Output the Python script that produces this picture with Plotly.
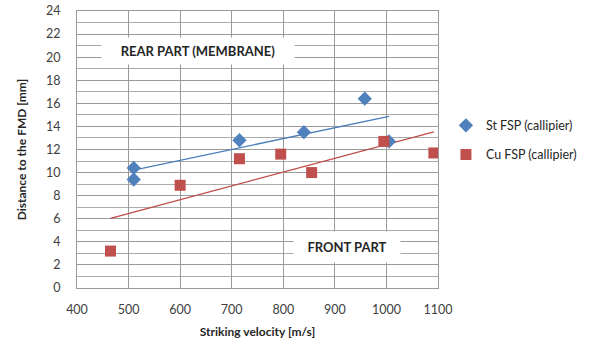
import numpy as np
import plotly.graph_objects as go

# Steel FSP measurements (callipier)
st_velocity = [510, 510, 715, 840, 958, 1005]
st_distance = [10.4, 9.4, 12.8, 13.5, 16.4, 12.7]

# Copper FSP measurements (callipier)
cu_velocity = [465, 600, 715, 795, 855, 995, 1092]
cu_distance = [3.2, 8.9, 11.2, 11.6, 10.0, 12.7, 11.7]

x_ticks = [400, 500, 600, 700, 800, 900, 1000, 1100]
y_ticks = list(range(0, 25, 2))

FONT = "Lato"
BLUE = "#4f81bd"
RED = "#c0504d"


def linear_trend(x, y):
    """Least-squares line evaluated at the min and max of x."""
    k, b = np.polyfit(x, y, 1)
    xs = np.array([min(x), max(x)])
    return xs, k * xs + b


fig = go.Figure()

st_tx, st_ty = linear_trend(st_velocity, st_distance)
cu_tx, cu_ty = linear_trend(cu_velocity, cu_distance)

fig.add_trace(go.Scatter(x=st_tx, y=st_ty, mode="lines",
                         line=dict(color="#4a7ebb", width=1.3),
                         showlegend=False, hoverinfo="skip"))
fig.add_trace(go.Scatter(x=cu_tx, y=cu_ty, mode="lines",
                         line=dict(color="#be4b48", width=1.3),
                         showlegend=False, hoverinfo="skip"))

fig.add_trace(go.Scatter(x=st_velocity, y=st_distance, mode="markers",
                         name="St FSP (callipier)", legendgroup="st",
                         marker=dict(symbol="diamond", size=11, color=BLUE)))
fig.add_trace(go.Scatter(x=cu_velocity, y=cu_distance, mode="markers",
                         name="Cu FSP (callipier)", legendgroup="cu",
                         marker=dict(symbol="square", size=11, color=RED)))

fig.add_annotation(x=634, y=20.5, text="<b>REAR PART (MEMBRANE)</b>",
                   showarrow=False, bgcolor="white", width=190, height=24,
                   font=dict(family=FONT, size=13, color="#262626"))
fig.add_annotation(x=924, y=3.55, text="<b>FRONT PART</b>",
                   showarrow=False, bgcolor="white", width=104, height=28,
                   font=dict(family=FONT, size=13, color="#262626"))

fig.update_xaxes(range=[400, 1100], tickvals=x_ticks,
                 showgrid=True, gridcolor="#9a9a9a", gridwidth=1,
                 showline=True, linecolor="#9a9a9a", mirror=True,
                 zeroline=False, ticks="outside", ticklen=10, tickcolor="white",
                 automargin=False,
                 tickfont=dict(family=FONT, size=12.5, color="#404040"),
                 title=dict(text="<b>Striking velocity [m/s]</b>", standoff=14,
                            font=dict(family=FONT, size=12, color="#262626")))
fig.update_yaxes(range=[0, 24], tickvals=y_ticks,
                 showgrid=True, gridcolor="#9a9a9a", gridwidth=1,
                 minor=dict(dtick=1, showgrid=True, gridcolor="#aaaaaa", gridwidth=1),
                 showline=True, linecolor="#9a9a9a", mirror=True,
                 zeroline=False, ticks="outside", ticklen=13, tickcolor="white",
                 automargin=False,
                 tickfont=dict(family=FONT, size=12.5, color="#404040"),
                 title=dict(text="<b>Distance to the FMD [mm]</b>", standoff=16,
                            font=dict(family=FONT, size=12, color="#262626")))

fig.update_layout(
    width=590, height=339,
    margin=dict(l=77, r=152, t=11, b=51, autoexpand=False),
    paper_bgcolor="white", plot_bgcolor="white",
    legend=dict(x=1.022, y=0.64, xanchor="left", yanchor="top",
                tracegroupgap=10, itemwidth=30,
                font=dict(family=FONT, size=12.5, color="#262626")),
)

fig.write_html("out.html")
